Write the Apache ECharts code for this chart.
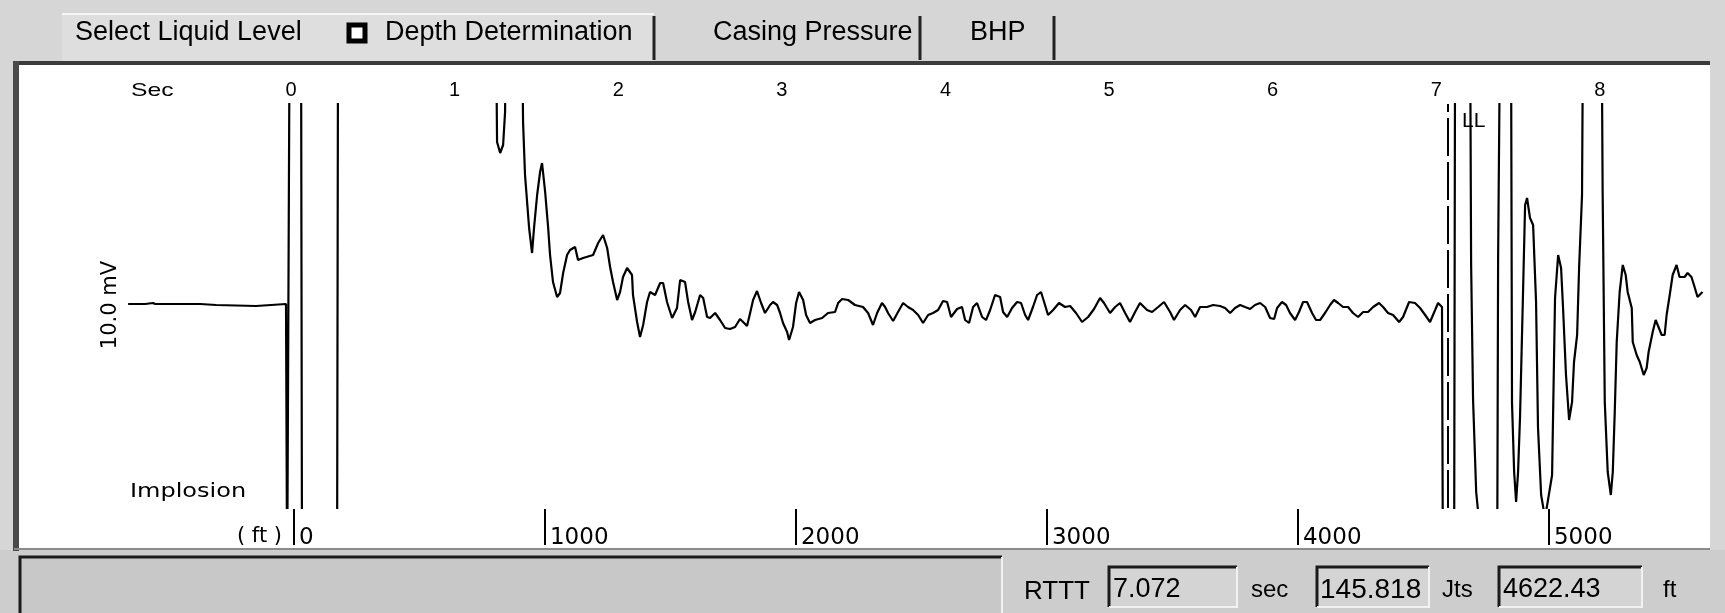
<!DOCTYPE html>
<html>
<head>
<meta charset="utf-8">
<title>Depth Determination</title>
<script src="https://cdn.jsdelivr.net/npm/echarts@6/dist/echarts.min.js"></script>
<style>
    html, body { margin: 0; padding: 0; background: #d6d6d6; }
    #chart { width: 1725px; height: 613px; }
</style>
</head>
<body>
<div id="chart"></div>
<script>
// axis ticks
const secTicks = [0, 1, 2, 3, 4, 5, 6, 7, 8];
const ftTicks = [0, 1000, 2000, 3000, 4000, 5000];

// acoustic trace: time (sec) and amplitude (+/-140 = off scale, clipped)
const sigT = [
    -0.996, -0.892, -0.880, -0.844, -0.831, -0.556, -0.550, -0.458, -0.452, -0.214, -0.202, -0.031,
    -0.024, -0.015, -0.009, 0.061, 0.067, 0.281, 0.287, 1.253, 1.259, 1.278, 1.296, 1.308, 1.314,
    1.412, 1.418, 1.430, 1.455, 1.473, 1.485, 1.504, 1.522, 1.534, 1.553, 1.571, 1.583, 1.601, 1.626,
    1.644, 1.663, 1.687, 1.705, 1.736, 1.754, 1.785, 1.846, 1.877, 1.907, 1.932, 1.950, 1.968, 1.993,
    2.011, 2.029, 2.054, 2.084, 2.090, 2.115, 2.133, 2.152, 2.176, 2.194, 2.225, 2.256, 2.274, 2.298,
    2.329, 2.359, 2.378, 2.408, 2.427, 2.451, 2.470, 2.500, 2.519, 2.543, 2.561, 2.592, 2.622, 2.653,
    2.683, 2.714, 2.744, 2.763, 2.787, 2.806, 2.824, 2.848, 2.873, 2.897, 2.928, 2.946, 2.971, 2.989,
    3.007, 3.032, 3.044, 3.068, 3.087, 3.105, 3.130, 3.148, 3.172, 3.203, 3.246, 3.282, 3.325, 3.344,
    3.368, 3.405, 3.447, 3.496, 3.527, 3.557, 3.582, 3.612, 3.631, 3.649, 3.680, 3.710, 3.741, 3.771,
    3.802, 3.833, 3.863, 3.894, 3.924, 3.955, 3.985, 4.010, 4.034, 4.071, 4.101, 4.120, 4.144, 4.169,
    4.193, 4.224, 4.248, 4.273, 4.303, 4.334, 4.352, 4.377, 4.407, 4.438, 4.462, 4.487, 4.505, 4.535,
    4.560, 4.584, 4.603, 4.627, 4.658, 4.694, 4.731, 4.762, 4.798, 4.835, 4.872, 4.908, 4.945, 4.969,
    5.006, 5.037, 5.067, 5.098, 5.128, 5.159, 5.189, 5.232, 5.263, 5.300, 5.336, 5.373, 5.397, 5.434,
    5.465, 5.501, 5.526, 5.556, 5.599, 5.636, 5.678, 5.709, 5.740, 5.770, 5.801, 5.831, 5.862, 5.892,
    5.923, 5.954, 5.984, 6.009, 6.027, 6.057, 6.082, 6.106, 6.137, 6.161, 6.186, 6.210, 6.241, 6.265,
    6.290, 6.320, 6.351, 6.375, 6.400, 6.430, 6.461, 6.491, 6.522, 6.553, 6.583, 6.614, 6.650, 6.675,
    6.705, 6.736, 6.773, 6.797, 6.834, 6.870, 6.901, 6.932, 6.962, 6.993, 7.011, 7.035,
    7.041, 7.109, 7.115, 7.207, 7.213, 7.225, 7.244, 7.256, 7.262, 7.372, 7.378, 7.390, 7.457,
    7.463, 7.476, 7.488, 7.500, 7.512, 7.531, 7.543, 7.555, 7.573, 7.592, 7.610, 7.622, 7.641, 7.665,
    7.708, 7.726, 7.745, 7.763, 7.775, 7.793, 7.812, 7.830, 7.842, 7.861, 7.873, 7.891, 7.897, 8.011,
    8.017, 8.030, 8.048, 8.067, 8.079, 8.091, 8.103, 8.121, 8.140, 8.158, 8.170, 8.195, 8.201, 8.225,
    8.244, 8.268, 8.286, 8.298, 8.323, 8.341, 8.353, 8.378, 8.396, 8.408, 8.427, 8.445, 8.469, 8.487,
    8.518, 8.536, 8.560, 8.579, 8.597, 8.621, 8.628
];
const sigV = [
    1, 1, 1.5, 1.5, 1, 1, 0.5, 0.5, 0, 0, 1, 1,
    -140, -140, 140, 140, -140, -140, 140, 140, 82, 76.5, 80.5, 97, 140,
    140, 92, 65.5, 39, 26.5, 39, 55.5, 67, 71.5, 57, 39.5, 25.5, 12, 4.5,
    6.5, 16.5, 25.5, 28, 29.5, 23, 24, 25.5, 31.5, 35.5, 29, 19.5, 12, 3,
    7, 14.5, 19, 15.5, 5.5, -8, -15.5, -9.5, 2, 7, 5.5, 11.5, 11.5, 2,
    -6, -1, 13, 12, 2, -7, -3, 5.5, 4, -5.5, -6, -3.5, -7, -11,
    -11.5, -10.5, -6.5, -8, -10, -3.5, 3, 7.5, 1.5, -3.5, 0.5, 2, 0.5, -3.5,
    -8.5, -13, -17, -10.5, 1.5, 7, 3, -4.5, -8.5, -7, -6, -3.5, -3, 1.5,
    3.5, 3, 0.5, -0.5, -3.5, -9.5, -3.5, 1.5, -0.5, -3.5, -7.5, -3, 1.5, -0.5,
    -2, -4.5, -8.5, -4.5, -3.5, -2, 2.5, 2, -5.5, -1.5, -0.5, -7, -8.5, -0.5,
    1.5, -5.5, -7, -2, 5.5, 4.5, -3, -5.5, -1, 2, 1.5, -4.5, -7, -0.5,
    5.5, 7, 2, -4.5, -2, 1.5, -0.5, 0, -3.5, -8, -5.5, -1.5, 4, 1.5,
    -3.5, -0.5, 1.5, -3.5, -8, -3, 1.5, -2, -3, -0.5, 2, -3, -7, -2,
    0.5, -2, -5.5, -0.5, -0.5, 0.5, 0, -1, -3.5, -1, 0.5, -0.5, -1.5, 0.5,
    1.5, -0.5, -6, -6.5, -1, 2, 0.5, -3.5, -7, -3, 2, 2, -3.5, -7,
    -7, -3.5, 0.5, 3, 1.5, -0.5, -0.5, -3.5, -5.5, -3, -3, -0.5, 1.5, -0.5,
    -3.5, -4.5, -8, -5.5, 2, 1.5, -1, -4.5, -8, -2, 1.5, -0.5,
    -140, -140, 140, 140, 21.5, -47, -93, -103, -140, -140, 23, 140, 140,
    -48.5, -83, -98, -83, -55.5, 9, 50.5, 54, 44, 40.5, 2, -61, -94.5, -106,
    -84.5, 4, 25.5, 19, -1, -34.5, -57, -48, -28, -14.5, 19, 55.5, 140, 140,
    57, -48, -83, -94.5, -83, -53, -18, 7, 20.5, 15.5, 7, -1, -18, -24.5,
    -28, -34.5, -31, -23, -13, -7, -8, -14.5, -14.5, -4.5, 5.5, 15.5, 20.5, 14.5,
    14.5, 16.5, 14.5, 9.5, 4.5, 6.5, 7
];

// readouts
const rttt = 7.072;
const joints = 145.818;
const depthFt = 4622.43;

const tabs = [
    { text: "Select Liquid Level", x: 75 },
    { text: "Depth Determination", x: 385 },
    { text: "Casing Pressure", x: 713 },
    { text: "BHP", x: 970 },
];
const tabSeps = [654, 920, 1054];

const sans = '"Liberation Sans", Arial, sans-serif';
const wide = '"DejaVu Sans", sans-serif';

const chart = echarts.init(document.getElementById("chart"));

const txt = (text, x, y, size, opts = {}) => ({
    type: "text",
    x: x,
    y: y,
    rotation: opts.rotation || 0,
    scaleX: opts.sx || 1,
    z: 10,
    style: {
        text: text,
        font: `${size}px ${opts.font || sans}`,
        fill: "#000",
        align: opts.align || "left",
        verticalAlign: "middle",
    },
});

const sunkBox = (x, y, w, h, fill) => [
    { type: "rect", z: 1, shape: { x: x, y: y, width: w, height: h }, style: { fill: fill } },
    { type: "polyline", z: 2, shape: { points: [[x, y + h], [x, y], [x + w, y]] }, style: { stroke: "#1a1a1a", lineWidth: 3, fill: null } },
    { type: "polyline", z: 2, shape: { points: [[x + w, y], [x + w, y + h], [x, y + h]] }, style: { stroke: "#f2f2f2", lineWidth: 2, fill: null } },
];

const graphics = [
    // plot panel
    { type: "rect", z: -5, shape: { x: 18, y: 63, width: 1692, height: 486 }, style: { fill: "#fff" } },
    { type: "rect", z: 5, shape: { x: 14, y: 61, width: 1696, height: 4 }, style: { fill: "#3c3c3c" } },
    { type: "rect", z: 5, shape: { x: 13, y: 61, width: 6, height: 490 }, style: { fill: "#4a4a4a" } },
    { type: "rect", z: 5, shape: { x: 14, y: 548, width: 1696, height: 2 }, style: { fill: "#8a8a8a" } },
    // bottom status bar
    { type: "rect", z: -5, shape: { x: 0, y: 550, width: 1725, height: 63 }, style: { fill: "#cdcdcd" } },
    ...sunkBox(20, 557, 982, 60, "#c8c8c8"),
    ...sunkBox(1109, 567, 128, 40, "#d4d4d4"),
    ...sunkBox(1317, 567, 112, 40, "#d4d4d4"),
    ...sunkBox(1499, 567, 143, 40, "#d4d4d4"),
    txt("RTTT", 1024, 592, 26),
    txt(rttt.toFixed(3), 1113, 590, 27),
    txt("sec", 1251, 590, 24),
    txt(joints.toFixed(3), 1320, 590, 28),
    txt("Jts", 1442, 590, 24),
    txt(depthFt.toFixed(2), 1503, 590, 27),
    txt("ft", 1663, 590, 24),
    // tab strip
    { type: "rect", z: 1, shape: { x: 62, y: 14, width: 592, height: 47 }, style: { fill: "#dedede" } },
    { type: "line", z: 2, shape: { x1: 62, y1: 14, x2: 654, y2: 14 }, style: { stroke: "#f6f6f6", lineWidth: 2 } },
    ...tabSeps.map((sx) => ({
        type: "line", z: 2, shape: { x1: sx, y1: 16, x2: sx, y2: 60 }, style: { stroke: "#222", lineWidth: 3 },
    })),
    { type: "rect", z: 3, shape: { x: 349, y: 25, width: 16, height: 16 }, style: { fill: "#fff", stroke: "#000", lineWidth: 5 } },
    ...tabs.map((t) => txt(t.text, t.x, 33, 27)),
    // trace annotations
    txt("Sec", 131, 91, 19, { sx: 1.3 }),
    txt("10.0 mV", 111, 305, 21, { rotation: Math.PI / 2, align: "center", font: wide }),
    txt("Implosion", 130, 492, 20, { sx: 1.2, font: wide }),
    txt("( ft )", 282, 537, 21, { align: "right", font: wide }),
];

const option = {
    animation: false,
    backgroundColor: "transparent",
    grid: { left: 20, right: 17, top: 104, bottom: 105 },
    xAxis: [
        {
            type: "value",
            position: "top",
            min: -1.657,
            max: 8.661,
            axisLine: { show: false },
            axisTick: { show: false },
            splitLine: { show: false },
            axisLabel: {
                customValues: secTicks,
                fontSize: 20,
                fontFamily: "Liberation Sans",
                color: "#000",
                margin: 4,
            },
        },
        {
            type: "value",
            position: "bottom",
            offset: 37,
            min: -1091.6,
            max: 5633.5,
            axisLine: { show: false },
            splitLine: { show: false },
            axisTick: {
                show: true,
                inside: true,
                length: 36,
                customValues: ftTicks,
                lineStyle: { color: "#000", width: 2 },
            },
            axisLabel: {
                customValues: ftTicks,
                formatter: (v) => String(v),
                inside: true,
                align: "left",
                margin: -5,
                padding: [0, 0, 0, 5],
                fontSize: 23,
                fontFamily: "DejaVu Sans",
                color: "#000",
            },
        },
    ],
    yAxis: { type: "value", min: -101, max: 101, show: false },
    series: [
        {
            type: "line",
            xAxisIndex: 0,
            data: sigT.map((t, i) => [t, sigV[i]]),
            showSymbol: false,
            symbol: "none",
            clip: true,
            silent: true,
            lineStyle: { color: "#000", width: 2.2 },
            markLine: {
                symbol: "none",
                silent: true,
                label: { show: false },
                lineStyle: { color: "#000", type: [38, 6], width: 2 },
                data: [{ xAxis: rttt }],
            },
        },
    ],
    graphic: graphics,
};

chart.setOption(option);

// LL tag next to the liquid level marker
const llX = chart.convertToPixel({ xAxisIndex: 0 }, rttt);
chart.setOption({ graphic: [...graphics, txt("LL", llX + 14, 121, 21)] }, { replaceMerge: ["graphic"] });
</script>
</body>
</html>
